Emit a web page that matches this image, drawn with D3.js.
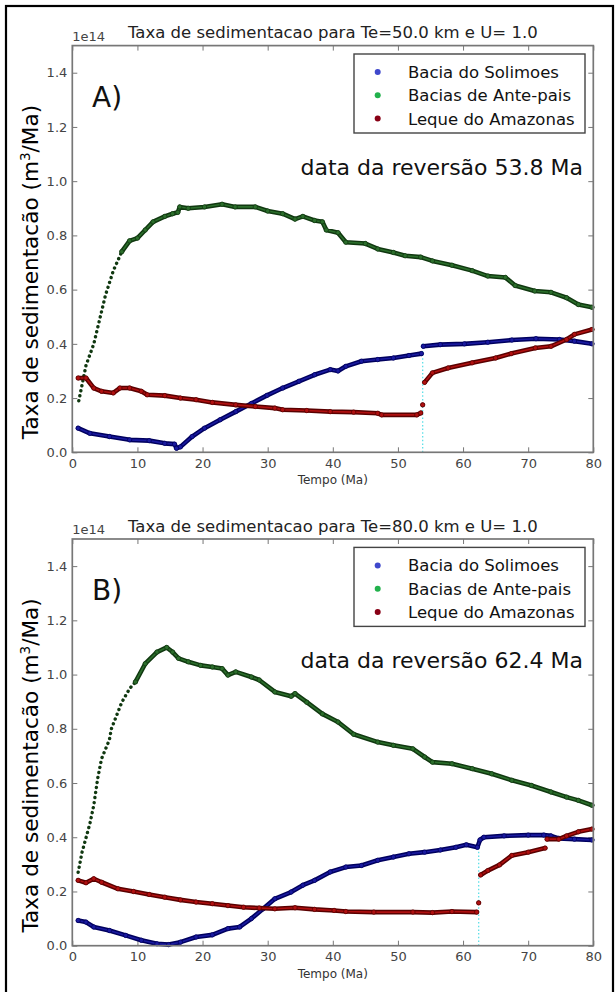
<!DOCTYPE html>
<html>
<head>
<meta charset="utf-8">
<script src="https://cdn.jsdelivr.net/npm/d3@7"></script>
<style>
  body { margin: 0; background: #fff; }
  text { font-family: "DejaVu Sans", sans-serif; }
</style>
</head>
<body>
<div id="chart"></div>
<script>
var svgWidth = 616;
var svgHeight = 992;

// ticks and labels
var xTicks = [0, 10, 20, 30, 40, 50, 60, 70, 80];
var yTicks = [0.0, 0.2, 0.4, 0.6, 0.8, 1.0, 1.2, 1.4];
var seriesNames = ["Bacia do Solimoes", "Bacias de Ante-pais", "Leque do Amazonas"];
var titles = ["Taxa de sedimentacao para Te=50.0 km e U= 1.0", "Taxa de sedimentacao para Te=80.0 km e U= 1.0"];
var tags = ["A)", "B)"];
var notes = ["data da reversão 53.8 Ma", "data da reversão 62.4 Ma"];
var reversalDates = [53.8, 62.4];
var reversalTop = [0.41, 0.395];

// Panel A data [tempo (Ma), taxa (1e14 m3/Ma)], null = break
var solimoesA = [[0.9,0.089],[2.7,0.07],[5.7,0.058],[8.8,0.046],[11.8,0.043],[14.2,0.033],[15.7,0.03],[16.0,0.015],[16.6,0.02],[18.4,0.058],[20.3,0.089],[22.7,0.12],[25.1,0.15],[27.5,0.18],[29.9,0.21],[32.3,0.237],[34.8,0.262],[37.2,0.286],[39.6,0.305],[40.8,0.30],[42,0.317],[44.4,0.336],[46.9,0.342],[49.3,0.348],[51.7,0.357],[53.6,0.364],[53.7,null],[53.9,0.391],[56.5,0.397],[60.2,0.40],[63.8,0.406],[67.5,0.414],[71.2,0.419],[74.8,0.416],[77.1,0.41],[79.8,0.40]];
var anteA = [[1.0,0.19],[2.1,0.32],[3.3,0.40],[4.2,0.49],[5.1,0.58],[6.3,0.67],[7.6,0.74],[8.8,0.78],[10,0.79],[11.2,0.82],[12.4,0.85],[14.2,0.87],[15.4,0.88],[16.2,0.885],[16.5,0.905],[17.8,0.9],[20.3,0.905],[23,0.915],[25,0.905],[28.1,0.905],[30,0.89],[32.3,0.88],[34.2,0.86],[35.4,0.87],[37.2,0.855],[38.4,0.85],[39,0.82],[40.8,0.81],[42,0.775],[45,0.77],[46.9,0.75],[49.3,0.737],[51.1,0.725],[53.5,0.72],[55.3,0.706],[58.3,0.69],[61.4,0.67],[63.8,0.65],[66.5,0.645],[68,0.615],[71,0.595],[73.5,0.59],[75.9,0.57],[77.7,0.545],[79.8,0.535]];
var lequeA = [[0.9,0.274],[2.1,0.274],[3.3,0.237],[4.5,0.225],[6.3,0.219],[7.3,0.237],[8.8,0.237],[10.6,0.225],[11.5,0.212],[14.2,0.209],[16.6,0.2],[19,0.194],[21.5,0.184],[25.1,0.175],[28.1,0.169],[31.1,0.163],[32.3,0.157],[36,0.154],[39.6,0.15],[43.2,0.148],[46.9,0.144],[47.5,0.138],[52.9,0.138],[53.5,0.145],[53.6,null],[53.8,0.175],[53.9,null],[54.1,0.258],[55.3,0.293],[57.7,0.311],[61.4,0.33],[65,0.348],[67.4,0.364],[71.1,0.385],[73.5,0.391],[75.9,0.416],[77.1,0.435],[79.8,0.453]];

// Panel B data
var solimoesB = [[0.9,0.093],[2.1,0.087],[3.3,0.069],[5.7,0.056],[8.2,0.038],[10.6,0.02],[13,0.007],[14.8,0.004],[16.6,0.013],[19,0.032],[21.5,0.04],[23.9,0.063],[25.7,0.069],[27.5,0.1],[29.3,0.136],[31.1,0.173],[33.6,0.198],[35.4,0.223],[37.2,0.241],[39.6,0.272],[42,0.29],[44.4,0.296],[46.9,0.315],[49.3,0.327],[51.7,0.339],[54.1,0.345],[56.5,0.353],[58.9,0.363],[60.5,0.372],[62.2,0.363],[62.6,0.39],[63.2,0.40],[66.3,0.405],[70,0.408],[72.4,0.408],[73.5,0.405],[74.7,0.396],[77.1,0.393],[79.8,0.39]];
var anteB = [[0.9,0.271],[1.5,0.345],[2.7,0.45],[3.3,0.518],[3.9,0.617],[4.5,0.69],[5.7,0.76],[6.0,0.8],[7.6,0.898],[8.8,0.948],[9.7,0.973],[11.2,1.04],[13,1.083],[14.5,1.1],[15.4,1.083],[16.3,1.06],[17.8,1.047],[19.7,1.034],[21.5,1.028],[23,1.022],[23.9,0.998],[25.1,1.01],[27.5,0.991],[28.7,0.98],[31.1,0.936],[33.6,0.92],[34.2,0.93],[36,0.898],[38.4,0.855],[40.8,0.825],[43.2,0.78],[46.9,0.751],[49.3,0.739],[52.3,0.726],[54.1,0.696],[55.3,0.677],[58.3,0.671],[61.4,0.653],[64.4,0.634],[67.5,0.61],[70.5,0.591],[73.5,0.567],[75.9,0.548],[77.7,0.536],[79.8,0.518]];
var lequeB = [[0.9,0.241],[2.1,0.232],[3.3,0.247],[4.5,0.234],[7,0.21],[9.4,0.2],[11.8,0.189],[14.2,0.179],[16.6,0.169],[19,0.161],[21.5,0.155],[23.9,0.148],[26.3,0.142],[28.7,0.139],[31.1,0.136],[34.2,0.14],[37.2,0.134],[40.2,0.13],[42,0.126],[46.3,0.124],[52.3,0.124],[55.3,0.122],[58.3,0.126],[62.1,0.124],[62.2,null],[62.4,0.158],[62.5,null],[62.7,0.261],[63.8,0.277],[65.6,0.298],[67.5,0.333],[70,0.345],[72.6,0.36],[72.7,null],[72.9,0.393],[74.7,0.393],[75.9,0.405],[77.7,0.42],[79.8,0.43]];

var riseEnd = [7.6, 9.7];   // steep part of Ante-pais drawn as separate dots

var legendColors = ["#3f48cc", "#22b14c", "#880015"];
var edgeColors = ["#00005e", "#103810", "#5a0000"];
var fillColors = ["#1a1aa0", "#2b6e2b", "#b01010"];

var margin = { left: 72.3, top: 45.6 };
var width = 521;
var height = 406.7;
var panelStep = 493.4;

var svg = d3.select("#chart")
  .append("svg")
  .attr("width", svgWidth)
  .attr("height", svgHeight);

// outer frame
svg.append("rect")
  .attr("x", 6).attr("y", 6)
  .attr("width", 607).attr("height", 1000)
  .attr("fill", "none")
  .attr("stroke", "#000")
  .attr("stroke-width", 2.2);

var xScale = d3.scaleLinear().domain([0, 80]).range([0, width]);
var yScale = d3.scaleLinear().domain([0, 1.5]).range([height, 0]);

var line = d3.line()
  .defined(d => d[1] != null)
  .x(d => xScale(d[0]))
  .y(d => yScale(d[1]));

var panelData = [[solimoesA, anteA, lequeA], [solimoesB, anteB, lequeB]];

panelData.forEach(function(series, p) {
  var g = svg.append("g")
    .attr("transform", `translate(${margin.left}, ${margin.top + p * panelStep})`);

  // axes, ticks inside on all sides
  var tickLen = 5;
  g.append("g")
    .attr("transform", `translate(0, ${height})`)
    .call(d3.axisBottom(xScale).tickValues(xTicks).tickSizeInner(-tickLen).tickSizeOuter(0).tickPadding(6).tickFormat(d3.format("d")))
    .call(a => a.select(".domain").remove())
    .call(a => a.selectAll("line").attr("stroke", "#777"))
    .call(a => a.selectAll("text").attr("font-size", 13).attr("fill", "#444").attr("font-family", "DejaVu Sans"));
  g.append("g")
    .call(d3.axisTop(xScale).tickValues(xTicks).tickSizeInner(-tickLen).tickSizeOuter(0).tickFormat(""))
    .call(a => a.select(".domain").remove())
    .call(a => a.selectAll("line").attr("stroke", "#777"));
  g.append("g")
    .call(d3.axisLeft(yScale).tickValues(yTicks).tickSizeInner(-tickLen).tickSizeOuter(0).tickPadding(5).tickFormat(d3.format(".1f")))
    .call(a => a.select(".domain").remove())
    .call(a => a.selectAll("line").attr("stroke", "#777"))
    .call(a => a.selectAll("text").attr("font-size", 13).attr("fill", "#444").attr("font-family", "DejaVu Sans"));
  g.append("g")
    .attr("transform", `translate(${width}, 0)`)
    .call(d3.axisRight(yScale).tickValues(yTicks).tickSizeInner(-tickLen).tickSizeOuter(0).tickFormat(""))
    .call(a => a.select(".domain").remove())
    .call(a => a.selectAll("line").attr("stroke", "#777"));

  // reversal line
  g.append("line")
    .attr("x1", xScale(reversalDates[p])).attr("x2", xScale(reversalDates[p]))
    .attr("y1", yScale(0)).attr("y2", yScale(reversalTop[p]))
    .attr("stroke", "#5ee0e8")
    .attr("stroke-width", 1.3)
    .attr("stroke-dasharray", "1.5,2.2");

  // series
  series.forEach(function(data, i) {
    var solid = data;
    if (i === 1) {
      var rise = data.filter(d => d[0] <= riseEnd[p]);
      solid = data.filter(d => d[0] >= riseEnd[p]);
      g.append("path")
        .datum(rise)
        .attr("d", line)
        .attr("fill", "none")
        .attr("stroke", edgeColors[i])
        .attr("stroke-width", 3.4)
        .attr("stroke-linecap", "round")
        .attr("stroke-dasharray", "0.1,5");
    }
    g.append("path")
      .datum(solid)
      .attr("d", line)
      .attr("fill", "none")
      .attr("stroke", edgeColors[i])
      .attr("stroke-width", 4.6)
      .attr("stroke-linejoin", "round")
      .attr("stroke-linecap", "round");
    g.append("path")
      .datum(solid)
      .attr("d", line)
      .attr("fill", "none")
      .attr("stroke", fillColors[i])
      .attr("stroke-width", 1.6)
      .attr("stroke-linejoin", "round")
      .attr("stroke-linecap", "round");
    g.selectAll(null)
      .data(solid.filter(d => d[1] != null))
      .enter()
      .append("circle")
      .attr("cx", d => xScale(d[0]))
      .attr("cy", d => yScale(d[1]))
      .attr("r", 2.2)
      .attr("fill", fillColors[i])
      .attr("stroke", edgeColors[i])
      .attr("stroke-width", 0.8);
  });

  // frame
  g.append("rect")
    .attr("width", width).attr("height", height)
    .attr("fill", "none")
    .attr("stroke", "#777")
    .attr("stroke-width", 1.7);

  // title, offset, x label
  g.append("text")
    .attr("x", width / 2).attr("y", -7.5)
    .attr("text-anchor", "middle")
    .attr("font-size", 16.5)
    .attr("fill", "#222")
    .text(titles[p]);
  g.append("text")
    .attr("x", 0).attr("y", -5)
    .attr("font-size", 13)
    .attr("fill", "#444")
    .text("1e14");
  g.append("text")
    .attr("x", width / 2).attr("y", height + 32)
    .attr("text-anchor", "middle")
    .attr("font-size", 12)
    .attr("fill", "#333")
    .text("Tempo (Ma)");

  // legend
  var lg = g.append("g").attr("transform", `translate(${354 - margin.left}, ${54 - margin.top})`);
  lg.append("rect")
    .attr("width", 231).attr("height", 79)
    .attr("fill", "#fff")
    .attr("stroke", "#444")
    .attr("stroke-width", 1.4);
  seriesNames.forEach(function(name, i) {
    var yy = 18 + i * 23.3;
    lg.append("circle")
      .attr("cx", 23.7).attr("cy", yy)
      .attr("r", 3)
      .attr("fill", legendColors[i]);
    lg.append("text")
      .attr("x", 54).attr("y", yy + 6)
      .attr("font-size", 16.5)
      .attr("fill", "#111")
      .text(name);
  });

  // panel tag and note
  g.append("text")
    .attr("x", 92 - margin.left).attr("y", 107 - margin.top)
    .attr("font-family", "Open Sans")
    .attr("font-size", 28)
    .attr("fill", "#111")
    .text(tags[p]);
  g.append("text")
    .attr("x", 583 - margin.left).attr("y", 175 - margin.top)
    .attr("text-anchor", "end")
    .attr("font-family", "Open Sans")
    .attr("font-size", 22)
    .attr("fill", "#111")
    .text(notes[p]);

  // y label
  var yl = svg.append("text")
    .attr("transform", `translate(38, ${272 + p * panelStep}) rotate(-90)`)
    .attr("text-anchor", "middle")
    .attr("font-family", "Liberation Sans")
    .attr("font-size", 21.6)
    .attr("fill", "#000");
  yl.append("tspan").text("Taxa de sedimentacão (m");
  yl.append("tspan").attr("font-size", 13.5).attr("dy", -8).text("3");
  yl.append("tspan").attr("dy", 8).text("/Ma)");
});
</script>
</body>
</html>
